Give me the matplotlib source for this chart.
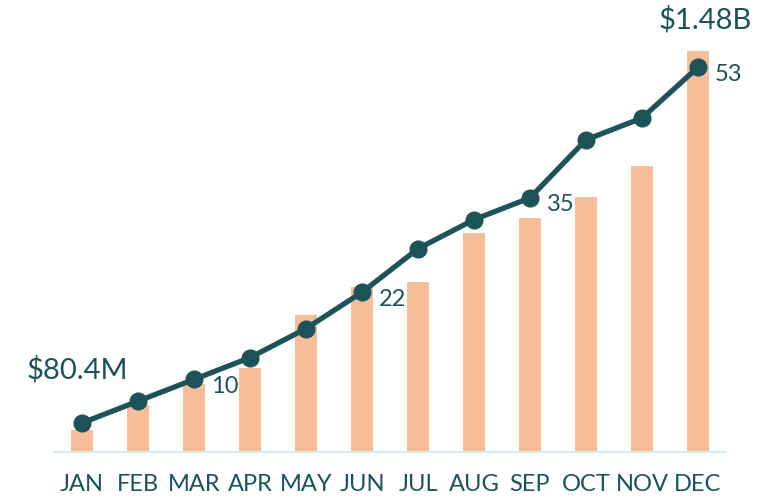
import matplotlib
matplotlib.use("Agg")
import matplotlib.pyplot as plt

plt.rcParams['font.family'] = ['Lato', 'DejaVu Sans']

months = ['JAN', 'FEB', 'MAR', 'APR', 'MAY', 'JUN', 'JUL', 'AUG', 'SEP', 'OCT', 'NOV', 'DEC']
revenue_m = [80.4, 173, 251, 310, 505, 609, 627, 808, 863, 941, 1055, 1480]
count = [4, 7, 10, 13, 17, 22, 28, 32, 35, 43, 46, 53]
count_labels = {2: '10', 5: '22', 8: '35', 11: '53'}
bar_labels = {0: '$80.4M', 11: '$1.48B'}

teal = '#1c5359'
peach = '#f6be98'
base = '#d3edf3'

W, H = 771, 498
fig = plt.figure(figsize=(W / 100, H / 100), dpi=100)
# axes in pixel terms: left 54, bottom 46, width 672, height 432
ax = fig.add_axes([54 / W, 46 / H, 672 / W, 432 / H])
ax2 = ax.twinx()

x = list(range(len(months)))
ax.bar(x, revenue_m, width=0.41, color=peach, zorder=1)
ax.set_ylim(0, 1594)
ax.set_xlim(-0.5, 11.5)

ax2.plot(x, count, color=teal, lw=3.8, marker='o', ms=12, zorder=3)
ax2.set_ylim(0, 59.5)

for a in (ax, ax2):
    for s in a.spines.values():
        s.set_visible(False)
    a.set_yticks([])
ax.spines['bottom'].set_visible(True)
ax.spines['bottom'].set_color(base)
ax.spines['bottom'].set_linewidth(1.5)

ax.set_xticks(x)
ax.set_xticklabels(months, fontsize=17, color=teal)
ax.tick_params(axis='x', length=0, pad=16)

for i, t in count_labels.items():
    ax2.annotate(t, (x[i], count[i]), xytext=(17, -7), textcoords='offset pixels',
                 ha='left', va='center', fontsize=17, color=teal)

ax.annotate(bar_labels[0], (x[0], revenue_m[0]), xytext=(-5, 60), textcoords='offset pixels',
            ha='center', va='center', fontsize=21, color=teal)
ax.annotate(bar_labels[11], (x[11], revenue_m[11]), xytext=(7, 31), textcoords='offset pixels',
            ha='center', va='center', fontsize=21, color=teal)

fig.savefig('out.png', dpi=100)
